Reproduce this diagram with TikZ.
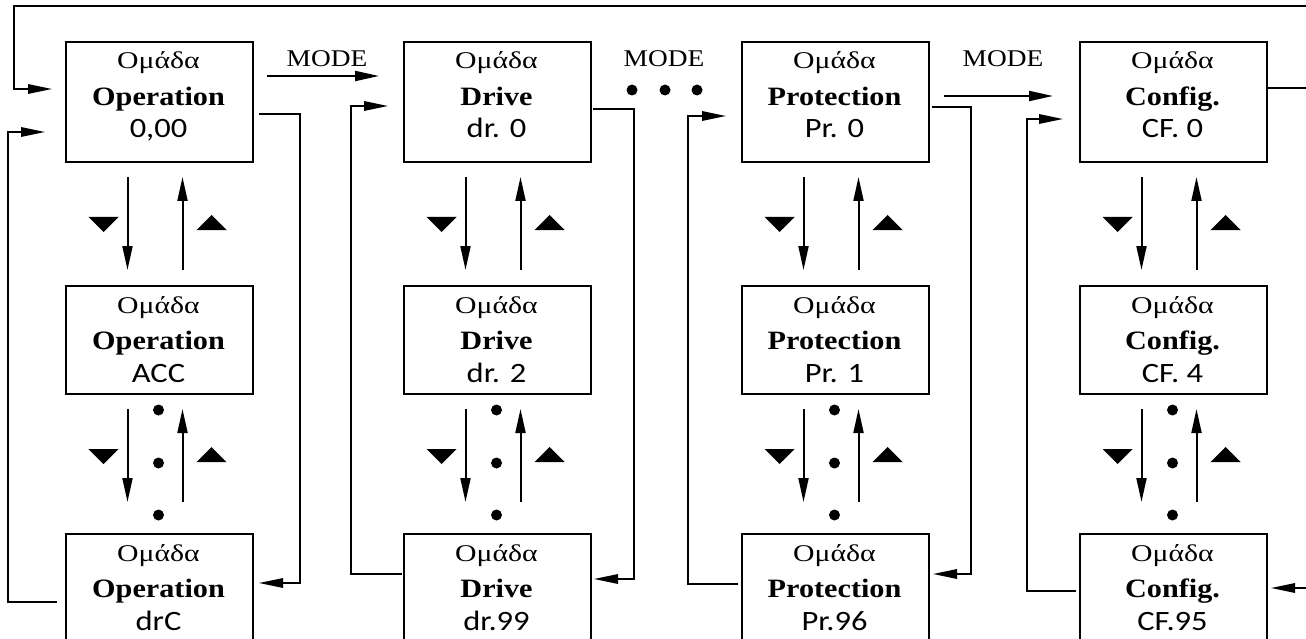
\documentclass[tikz,border=0pt]{standalone}
\usepackage{fontspec}
\setmainfont[FakeStretch=1.14]{Liberation Serif}
\newfontfamily\grkfont[FakeStretch=1.24]{Liberation Serif}
\newfontfamily\codefont[FakeStretch=1.16]{Carlito}
\usetikzlibrary{arrows.meta,calc}
\tikzset{
  gbox/.style={draw, line width=2pt, minimum width=187pt, inner sep=0pt, anchor=north west},
  gtxt/.style={anchor=base, inner sep=0pt, font=\fontsize{24}{28}\selectfont},
  grtxt/.style={anchor=base, inner sep=0pt, font=\fontsize{24}{28}\selectfont\grkfont},
  btxt/.style={anchor=base, inner sep=0pt, font=\fontsize{26.5}{30}\selectfont\bfseries},
  ctxt/.style={anchor=base, inner sep=0pt, font=\fontsize{28}{32}\selectfont\codefont},
  conn/.style={line width=1.6pt},
  tip/.style={-{Triangle[length=24pt,width=9.5pt]}},
  varrow/.style={line width=2pt, -{Triangle[length=24pt,width=10pt]}},
  dotmark/.style={fill, circle, inner sep=0pt, minimum size=11pt},
}
% #1 name, #2 left x, #3 top y, #4 height, #5 bold word, #6 code
\newcommand\grp[6]{%
  \node[gbox, minimum height=#4pt] (#1) at (#2,#3) {};
  \node[grtxt] (#1a) at ({#2+93.5},{#3+28}) {Ομάδα};
  \node[btxt] (#1b) at ({#2+93.5},{#3+64.5}) {#5};
  \node[ctxt] (#1c) at ({#2+93.5},{#3+97}) {#6};
}
% vertical arrows between rows: #1 upper box, #2 lower box
\newcommand\updown[2]{%
  \draw[varrow] ($(#1.south)+(-32,14)$) -- ($(#2.north)+(-32,-31)$);
  \draw[varrow] ($(#2.north)+(23,-31)$) -- ($(#1.south)+(23,14)$);
}
\newcommand\updownA[2]{%
  \draw[varrow] ($(#1.south)+(-32,14)$) -- ($(#2.north)+(-32,-15)$);
  \draw[varrow] ($(#2.north)+(23,-15)$) -- ($(#1.south)+(23,14)$);
}
% triangles: #1 x centre, #2 y centre
\newcommand\tris[2]{%
  \fill ({#1-70},{#2-7}) -- ({#1-40},{#2-7}) -- ({#1-55},{#2+8}) -- cycle;
  \fill ({#1+38},{#2+6}) -- ({#1+68},{#2+6}) -- ({#1+53},{#2-9}) -- cycle;
}
\begin{document}
\begin{tikzpicture}[x=1pt,y=-1pt]
\useasboundingbox (0,0) rectangle (1306,639);
\clip (0,0) rectangle (1306,639);

% boxes
\grp{o1}{65}{41}{120}{Operation}{0,00}
\grp{o2}{65}{285}{108}{Operation}{ACC}
\grp{o3}{65}{533}{120}{Operation}{drC}
\grp{d1}{403}{41}{120}{Drive}{dr. 0}
\grp{d2}{403}{285}{108}{Drive}{dr. 2}
\grp{d3}{403}{533}{120}{Drive}{dr.99}
\grp{p1}{741}{41}{120}{Protection}{Pr. 0}
\grp{p2}{741}{285}{108}{Protection}{Pr. 1}
\grp{p3}{741}{533}{120}{Protection}{Pr.96}
\grp{c1}{1079}{41}{120}{Config.}{CF. 0}
\grp{c2}{1079}{285}{108}{Config.}{CF. 4}
\grp{c3}{1079}{533}{120}{Config.}{CF.95}

% up/down arrows
\updownA{o1}{o2}\updown{o2}{o3}
\updownA{d1}{d2}\updown{d2}{d3}
\updownA{p1}{p2}\updown{p2}{p3}
\updownA{c1}{c2}\updown{c2}{c3}
\foreach \cx in {158.5,496.5,834.5,1172.5}{
  \tris{\cx}{224}
  \tris{\cx}{456}
  \node[dotmark] at (\cx,410) {};
  \node[dotmark] at (\cx,463) {};
  \node[dotmark] at (\cx,515) {};
}

% MODE
\node[gtxt] (m1) at (327,67) {MODE};
\node[gtxt] (m2) at (664,67) {MODE};
\node[gtxt] (m3) at (1003,67) {MODE};
\draw[varrow] ($(o1.east)+(13,-26)$) -- ($(d1.west)+(-24,-26)$);
\draw[varrow] ($(p1.east)+(14,-6)$) -- ($(c1.west)+(-26,-6)$);
\node[dotmark] (md1) at (632,90) {};
\node[dotmark] (md2) at (665,90) {};
\node[dotmark] (md3) at (697,90) {};

% column 1
\draw[conn,tip] ($(o1.east)+(5,12)$) -| ($(o3.east)+(46,-11)$) -- ($(o3.east)+(5,-11)$);
\draw[conn,tip] ($(o3.west)+(-8,8)$) -| ($(o1.west)+(-57,30)$) -- ($(o1.west)+(-20,30)$);
% column 2
\draw[conn,tip] ($(d3.west)+(-1,-20)$) -| ($(d1.west)+(-52,4)$) -- ($(d1.west)+(-15,4)$);
\draw[conn,tip] ($(d1.east)+(1,7)$) -| ($(d3.east)+(42,-15)$) -- ($(d3.east)+(2,-15)$);
% column 3
\draw[conn,tip] ($(p3.west)+(-3,-10)$) -| ($(p1.west)+(-53,14)$) -- ($(p1.west)+(-15,14)$);
\draw[conn,tip] ($(p1.east)+(2,5)$) -| ($(p3.east)+(41,-20)$) -- ($(p3.east)+(3,-20)$);
% column 4
\draw[conn,tip] ($(c3.west)+(-3,-3)$) -| ($(c1.west)+(-52,17)$) -- ($(c1.west)+(-16,17)$);
\coordinate (rtop) at ($(c1.east)+(39,-96)$);
\coordinate (ltop) at ($(o1.west)+(-51,-96)$);
\draw[conn] ($(c1.east)+(0,-14)$) -- ($(c1.east)+(39,-14)$);
\draw[conn,tip] (rtop) |- ($(c3.east)+(3,-6)$);
\draw[conn,tip] (rtop) -- (ltop) |- ($(o1.west)+(-13,-13)$);
\end{tikzpicture}
\end{document}
